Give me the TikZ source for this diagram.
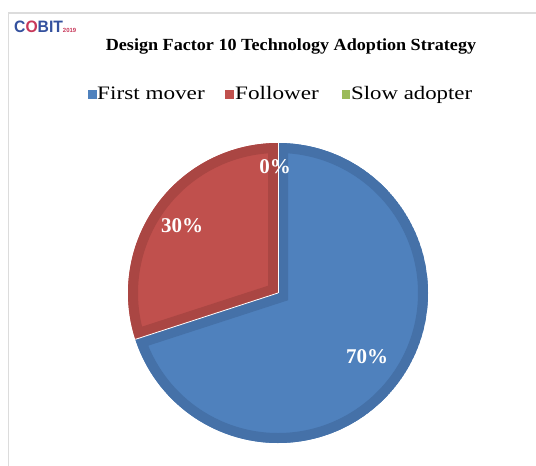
\documentclass[tikz,border=0pt]{standalone}
\usepackage{fontspec}
\setmainfont{Liberation Serif}
\newfontfamily\logofont{Liberation Sans}
\definecolor{pblue}{HTML}{4F81BD}
\definecolor{pbluedk}{HTML}{4571A8}
\definecolor{pred}{HTML}{C0504D}
\definecolor{preddk}{HTML}{AA4643}
\definecolor{pgreen}{HTML}{9BBB59}
\definecolor{framegray}{HTML}{DCDCDC}
\definecolor{logoblue}{HTML}{34519E}
\definecolor{logored}{HTML}{C8385A}
\tikzset{
  pct/.style={text=white, font=\fontsize{21}{24}\selectfont\bfseries, inner sep=0pt},
  legtext/.style={anchor=base west, inner sep=0pt, font=\fontsize{19}{21}\selectfont},
  legbox/.style={draw=none, minimum size=8.5pt, inner sep=0pt},
}
\begin{document}
\begin{tikzpicture}[x=1pt,y=1pt]
\useasboundingbox (0,0) rectangle (536,-466);
\fill[white] (0,0) rectangle (536,-466);
% frame
\draw[framegray, line width=1.5pt] (8.5,-466) -- (8.5,-13) -- (536,-13);
% logo
\node[anchor=base west, inner sep=0pt, font=\logofont\fontsize{16.5}{17}\selectfont\bfseries] (logo) at (14,-32.5)
  {\scalebox{0.95}[1]{\textcolor{logoblue}{C}\textcolor{logored}{O}\textcolor{logoblue}{BIT}}\textcolor{logored}{\fontsize{6}{6}\selectfont 2019}};
% title
\node[anchor=base, inner sep=0pt, font=\fontsize{17}{20}\selectfont\bfseries] (title) at (291,-50)
  {\scalebox{1.066}[1]{Design Factor 10 Technology Adoption Strategy}};
% legend
\node[legbox, fill=pblue] (lb1) at (92.5,-94.5) {};
\node[legtext] (lt1) at (97,-99) {\scalebox{1.22}[1]{First mover}};
\node[legbox, fill=pred] (lb2) at (229.5,-94.5) {};
\node[legtext] (lt2) at (235,-99) {\scalebox{1.22}[1]{Follower}};
\node[legbox, fill=pgreen] (lb3) at (346,-94.5) {};
\node[legtext] (lt3) at (351,-99) {\scalebox{1.2}[1]{Slow adopter}};
% pie
\coordinate (C) at (278,-293);
\begin{scope}
  \clip (C) -- ++(90:150) arc[start angle=90, end angle=-162, radius=150] -- cycle;
  \fill[pblue] (C) -- ++(90:150) arc[start angle=90, end angle=-162, radius=150] -- cycle;
  \draw[pbluedk, line width=20pt, line join=miter] (C) -- ++(90:150) arc[start angle=90, end angle=-162, radius=150] -- cycle;
\end{scope}
\begin{scope}
  \clip (C) -- ++(198:150) arc[start angle=198, end angle=90, radius=150] -- cycle;
  \fill[pred] (C) -- ++(198:150) arc[start angle=198, end angle=90, radius=150] -- cycle;
  \draw[preddk, line width=20pt, line join=miter] (C) -- ++(198:150) arc[start angle=198, end angle=90, radius=150] -- cycle;
\end{scope}
\draw[white, line width=0.8pt] (C) -- ++(90:150);
\draw[white, line width=0.8pt] (C) -- ++(198:150);
% labels
\node[pct] (l0) at (275,-167) {0\%};
\node[pct] (l30) at (182,-226) {30\%};
\node[pct] (l70) at (367,-357) {70\%};
\end{tikzpicture}
\end{document}
